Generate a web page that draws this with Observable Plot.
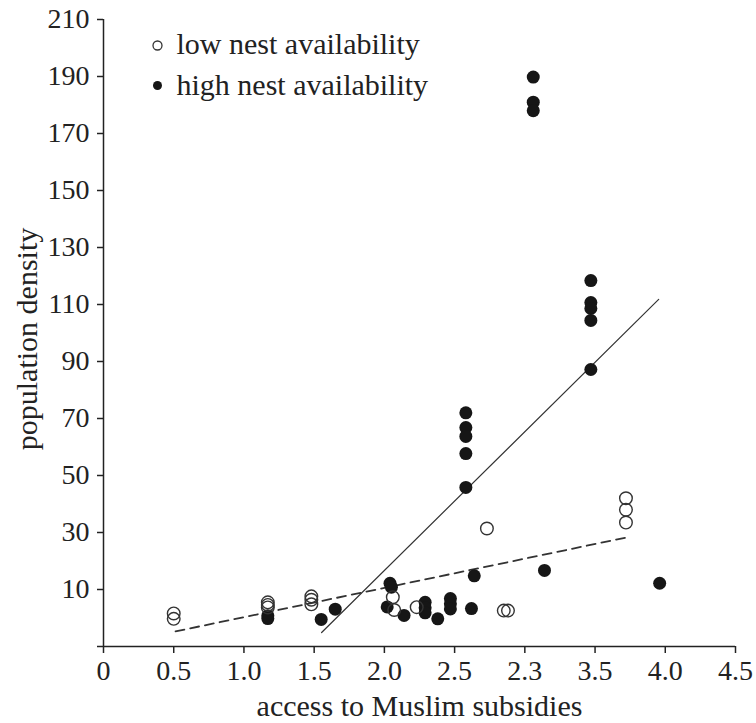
<!DOCTYPE html>
<html>
<head>
<meta charset="utf-8">
<script src="https://cdn.jsdelivr.net/npm/d3@7"></script>
<script src="https://cdn.jsdelivr.net/npm/@observablehq/plot@0.6"></script>
<style>
  html, body { margin: 0; padding: 0; background: white; }
  #chart { width: 756px; height: 723px; }
</style>
</head>
<body>
<div id="chart"></div>
<script>
// ---- data ----
const lowLabel = "low nest availability";
const highLabel = "high nest availability";
const xLabel = "access to Muslim subsidies";
const yLabel = "population density";

const lowX = [0.50, 0.50, 1.17, 1.17, 1.17, 1.48, 1.48, 1.48, 2.06, 2.07, 2.23, 2.73, 2.85, 2.88, 3.72, 3.72, 3.72];
const lowY = [1.6, -0.3, 5.5, 4.6, 3.7, 7.6, 6.4, 4.8, 7.3, 2.8, 3.8, 31.4, 2.6, 2.6, 42, 38, 33.5];

const highX = [1.17, 1.17, 1.55, 1.65, 2.04, 2.05, 2.02, 2.14, 2.29, 2.29, 2.29, 2.38, 2.47, 2.47, 2.47, 2.62, 2.64,
               2.58, 2.58, 2.58, 2.58, 2.58, 3.06, 3.06, 3.06, 3.14, 3.47, 3.47, 3.47, 3.47, 3.47, 3.96];
const highY = [0.8, -0.2, -0.5, 3.1, 12.2, 10.8, 3.9, 0.9, 5.5, 3.6, 1.8, -0.3, 6.8, 5.0, 3.2, 3.3, 14.8,
               72, 66.8, 63.7, 57.7, 45.8, 189.8, 181, 178, 16.7, 118.4, 110.7, 108.6, 104.4, 87.2, 12.2];

// fitted lines (endpoints as drawn)
const highFitX = [1.553, 3.953];
const highFitY = [-5.1, 111.8];
const lowFitX = [0.513, 3.718];
const lowFitY = [-4.7, 28.2];

const xTicks = [0, 0.5, 1.0, 1.5, 2.0, 2.5, 3.0, 3.5, 4.0, 4.5];
const xTickLabels = ["0", "0.5", "1.0", "1.5", "2.0", "2.5", "2.3", "3.5", "4.0", "4.5"];
const yTicks = [-10, 10, 30, 50, 70, 90, 110, 130, 150, 170, 190, 210];

// ---- build tables ----
const low = lowX.map((x, i) => ({x, y: lowY[i]}));
const high = highX.map((x, i) => ({x, y: highY[i]}));
const highFit = highFitX.map((x, i) => ({x, y: highFitY[i]}));
const lowFit = lowFitX.map((x, i) => ({x, y: lowFitY[i]}));

const ink = "#222";
const tickFont = 28;
const textFont = 30;

const chart = Plot.plot({
  width: 756,
  height: 723,
  marginLeft: 103,
  marginRight: 21,
  marginTop: 19,
  marginBottom: 77,
  style: {fontFamily: "'Liberation Serif', 'DejaVu Serif', serif", fontSize: "28px", color: ink, background: "white"},
  x: {domain: [0, 4.5]},
  y: {domain: [-10, 210]},
  marks: [
    Plot.ruleX([0], {stroke: ink, strokeWidth: 1.5}),
    Plot.ruleY([-10], {stroke: ink, strokeWidth: 1.5}),
    Plot.axisX({ticks: xTicks, tickFormat: d => xTickLabels[xTicks.indexOf(d)], tickSize: 7, tickPadding: 7,
      label: null, fontSize: tickFont, stroke: ink, strokeWidth: 1.5}),
    Plot.axisY({ticks: yTicks, tickFormat: d => d < 0 ? "" : String(d), tickSize: 6, tickPadding: 8,
      label: null, fontSize: tickFont, stroke: ink, strokeWidth: 1.5}),
    Plot.line(lowFit, {x: "x", y: "y", stroke: "#333", strokeWidth: 1.8, strokeDasharray: "9,6"}),
    Plot.line(highFit, {x: "x", y: "y", stroke: "#333", strokeWidth: 1.2}),
    Plot.dot(high, {x: "x", y: "y", r: 6.5, fill: "#161616", stroke: "none"}),
    Plot.dot(low, {x: "x", y: "y", r: 6.3, fill: "none", stroke: "#333", strokeWidth: 1.4}),
    // legend
    Plot.dot([lowLabel], {frameAnchor: "top-left", dx: 54, dy: 26, r: 4.5, fill: "none", stroke: "#333", strokeWidth: 1.3}),
    Plot.dot([highLabel], {frameAnchor: "top-left", dx: 54, dy: 66, r: 4.5, fill: "#161616"}),
    Plot.text([lowLabel], {frameAnchor: "top-left", dx: 73, dy: 25, text: d => d, textAnchor: "start", lineAnchor: "middle", fontSize: textFont, fill: ink}),
    Plot.text([highLabel], {frameAnchor: "top-left", dx: 73, dy: 66, text: d => d, textAnchor: "start", lineAnchor: "middle", fontSize: textFont, fill: ink}),
    // axis titles
    Plot.text([xLabel], {frameAnchor: "bottom", dy: 60, text: d => d, textAnchor: "middle", lineAnchor: "middle", fontSize: textFont, fill: ink}),
    Plot.text([yLabel], {frameAnchor: "left", dx: -76, dy: 6, rotate: -90, text: d => d, textAnchor: "middle", lineAnchor: "middle", fontSize: textFont, fill: ink})
  ]
});
document.getElementById("chart").appendChild(chart);
</script>
</body>
</html>
